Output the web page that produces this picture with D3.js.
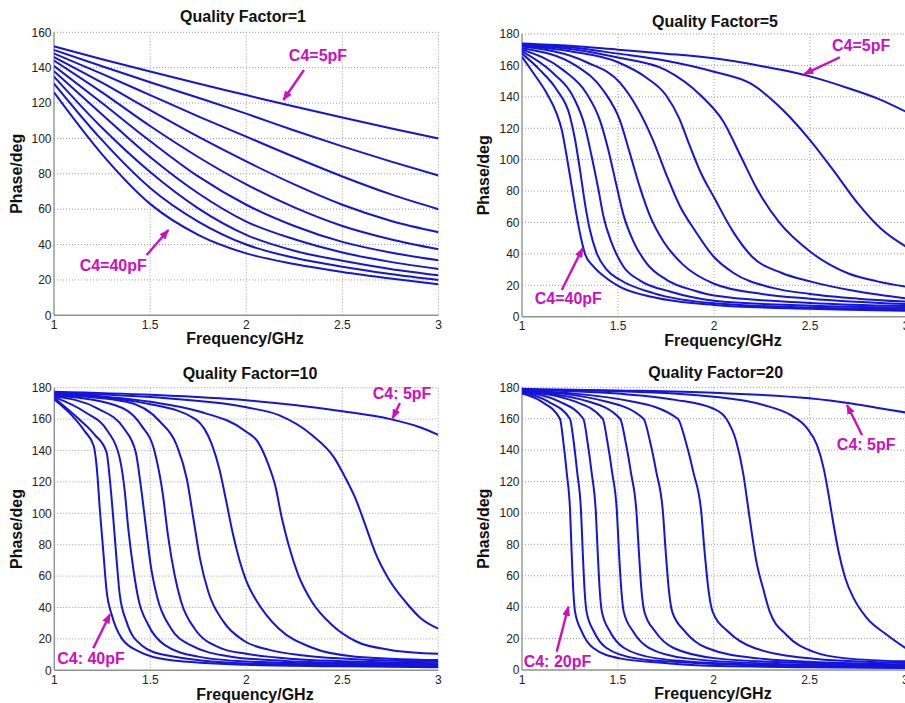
<!DOCTYPE html>
<html lang="en">
<head>
<meta charset="UTF-8">
<title>Phase vs Frequency for several quality factors</title>
<script src="https://d3js.org/d3.v7.min.js"></script>
<style>
  body { margin: 0; background: #fff; }
  svg { display: block; font-family: Arial, "Liberation Sans", Helvetica, sans-serif; }
  .grid line { stroke: #9c9c9c; stroke-width: 1; stroke-dasharray: 1,2; }
  .axis-line { stroke: #8a968a; stroke-width: 1.4; }
  .tick-label { font-size: 12px; fill: #222; }
  .title, .axis-title { font-size: 16px; font-weight: bold; fill: #111; }
  .curve { fill: none; stroke: #1414dc; stroke-width: 2; stroke-linejoin: round; }
  .note { font-size: 16px; font-weight: bold; fill: #cc11bb; }
  .note-arrow { stroke: #cc11bb; stroke-width: 2.4; }
</style>
</head>
<body>
<svg id="chart" width="905" height="703"></svg>
<script>
const freqTicks = [1, 1.5, 2, 2.5, 3];
const phaseTicksQ1 = [0, 20, 40, 60, 80, 100, 120, 140, 160];
const phaseTicks = [0, 20, 40, 60, 80, 100, 120, 140, 160, 180];

// Q = 1 : one shared frequency grid, ten curves (top = C4 5pF)
const q1Freq = [1, 1.25, 1.5, 1.75, 2, 2.25, 2.5, 2.75, 3];
const q1Phase = [
  [152, 144.8, 137.8, 131, 124.5, 118, 111.8, 105.8, 100],
  [150, 140.8, 131.8, 123, 114, 104.5, 95.5, 87, 79],
  [148, 136.5, 124.5, 112.5, 101, 89.5, 78.5, 68.5, 60],
  [146, 131.5, 116, 101, 87, 74, 62.5, 53.5, 47],
  [144, 126, 107, 89.5, 74, 61, 50.5, 43, 37.3],
  [141, 120, 98.5, 78.5, 62.5, 50.5, 41.5, 35.5, 31.1],
  [138, 113.5, 89.5, 69, 53, 43, 35.5, 30.2, 26.2],
  [135, 106, 81, 60.5, 45.5, 36.5, 30.8, 26.2, 22.6],
  [131, 99, 72, 53, 40, 32.5, 27.5, 23.4, 20],
  [126, 91, 63, 45.5, 35, 29, 24.5, 20.8, 17.5]
];

// Q = 5 : [GHz, deg] points
const q5Curves = [
  [[1,174],[1.25,172.5],[1.5,170],[1.75,167.5],[2,164.5],[2.25,159.5],[2.5,153],[2.7,145.5],[2.85,139],[3,130.5]],
  [[1,173.5],[1.25,171.5],[1.5,167.5],[1.75,163],[2,156],[2.19,148.5],[2.36,131.5],[2.5,112.5],[2.62,93.5],[2.75,72],[2.87,56],[3,44.6]],
  [[1,173],[1.25,170.5],[1.5,165],[1.75,157],[1.93,141],[2.05,124],[2.14,102],[2.23,80],[2.34,60],[2.5,41.5],[2.7,27.5],[2.85,22.5],[3,19.1]],
  [[1,172.5],[1.25,169],[1.5,162],[1.65,152],[1.75,141],[1.82,126],[1.87,110],[1.93,92],[2,76],[2.1,54],[2.2,38],[2.35,28],[2.5,22.5],[2.75,16],[3,11.7]],
  [[1,172],[1.337,162],[1.51,149],[1.6,133],[1.68,113],[1.75,91],[1.82,71],[1.9,55],[2,38],[2.1,28],[2.3,18.5],[2.5,14.5],[2.75,11.5],[3,9.6]],
  [[1,171],[1.285,159.5],[1.424,144],[1.51,125],[1.562,104],[1.615,82],[1.667,64],[1.736,48],[1.84,33],[2,21],[2.25,14.5],[2.5,11.5],[3,8.1]],
  [[1,170],[1.215,157],[1.337,142],[1.406,125],[1.45,106],[1.493,83],[1.528,65],[1.58,48],[1.649,34],[1.753,23.5],[1.9,16.5],[2,13.5],[2.5,8.8],[3,6.8]],
  [[1,169],[1.163,155],[1.267,140],[1.328,121],[1.363,102],[1.398,81],[1.424,64],[1.467,47],[1.528,32],[1.615,23],[1.77,16],[2,10.2],[2.5,7],[3,5.7]],
  [[1,167.5],[1.094,157],[1.181,144.5],[1.25,127.5],[1.276,113],[1.302,93.5],[1.328,72],[1.354,55],[1.389,40.5],[1.441,30],[1.51,23.5],[1.684,15],[2,8.5],[2.5,5.8],[3,4.7]],
  [[1,165.5],[1.06,155],[1.13,142],[1.18,129.5],[1.207,119],[1.233,102],[1.259,83],[1.285,64],[1.311,48],[1.328,40],[1.372,32],[1.44,24.5],[1.51,19],[1.68,12.5],[2,7.5],[2.5,5],[3,3.8]]
];

// Q = 10
const q10Curves = [
  [[1,177.5],[1.5,175.5],[2,172],[2.25,169],[2.5,165],[2.75,160],[2.9,155],[3,150]],
  [[1,177],[1.5,174],[2,167.5],[2.17,162.5],[2.34,150],[2.46,135],[2.51,124],[2.57,109],[2.62,92.5],[2.67,75.5],[2.74,58.5],[2.83,43.5],[2.91,33],[3,26.5]],
  [[1,176.5],[1.5,171],[1.75,165],[2,152],[2.06,145.5],[2.115,131],[2.15,118],[2.185,97],[2.22,80],[2.27,61],[2.34,44],[2.445,29],[2.57,18.5],[2.75,13],[3,10.5]],
  [[1,176],[1.5,169.5],[1.735,160],[1.82,144],[1.86,128],[1.895,108],[1.93,87],[1.965,70],[2,57],[2.05,45],[2.1,36],[2.17,26.5],[2.34,14.5],[2.57,8.7],[3,6.5]],
  [[1,175.5],[1.377,171],[1.551,158.3],[1.637,143.5],[1.69,122],[1.724,97],[1.759,71],[1.802,50],[1.881,31],[1.985,19],[2.12,13],[2.3,9.5],[2.5,7.5],[3,5.5]],
  [[1,175],[1.314,169],[1.453,156],[1.523,139],[1.566,111.5],[1.592,86],[1.627,60.5],[1.661,43.5],[1.731,26.5],[1.87,14],[2,10.5],[2.25,7.2],[2.5,5.8],[3,4.5]],
  [[1,174.5],[1.224,166.8],[1.363,154],[1.424,139],[1.45,118],[1.476,92.5],[1.502,67],[1.537,46],[1.606,27],[1.71,16],[1.92,8.7],[2.2,6],[2.5,4.8],[3,3.8]],
  [[1,174],[1.159,164.5],[1.28,152],[1.341,135],[1.367,114],[1.385,90.5],[1.411,65],[1.437,46],[1.489,29],[1.576,16],[1.749,8.7],[2,5.6],[2.5,4],[3,3.2]],
  [[1,173.5],[1.124,160.5],[1.211,150],[1.272,139],[1.289,122],[1.307,97],[1.324,71],[1.341,48],[1.376,31],[1.454,16],[1.576,9.7],[2,4.3],[2.5,3.2],[3,2.6]],
  [[1,172.5],[1.09,162.5],[1.16,152],[1.205,143],[1.222,128],[1.238,101],[1.255,76],[1.272,51],[1.3,35],[1.35,20.5],[1.44,12],[1.6,6.5],[2,3.5],[2.5,2.5],[3,2]]
];

// Q = 20
const q20Curves = [
  [[1,179],[1.5,178],[2,176.5],[2.5,173],[2.7,170],[2.85,167],[3,164]],
  [[1,178.5],[1.5,177.5],[2,174],[2.26,168.7],[2.4,162.4],[2.487,154],[2.539,143.3],[2.574,128.4],[2.6,111.4],[2.626,92.3],[2.652,75.3],[2.687,58.4],[2.731,45.6],[2.8,33],[2.905,22.3],[3,14]],
  [[1,178.5],[1.5,176],[1.8,172],[1.997,166.5],[2.066,160],[2.118,145.5],[2.153,126],[2.188,96.5],[2.223,69],[2.258,52],[2.293,37],[2.38,22.3],[2.519,11.7],[2.693,7.4],[3,5.5]],
  [[1,178],[1.574,171],[1.813,160],[1.855,145],[1.894,126],[1.935,101],[1.953,75],[1.974,50],[1.995,37],[2.075,24.5],[2.213,14],[2.535,7],[3,4.5]],
  [[1,178],[1.437,171],[1.634,160],[1.669,145],[1.701,126],[1.735,101],[1.75,75],[1.767,50],[1.784,37],[1.851,24.5],[1.965,14],[2.231,7.4],[2.6,4.8],[3,3.6]],
  [[1,177.5],[1.346,171],[1.512,160],[1.541,145],[1.568,126],[1.597,101],[1.61,75],[1.624,50],[1.639,37],[1.695,24.5],[1.791,14],[2.015,7.4],[2.5,4.3],[3,3]],
  [[1,177.5],[1.275,171],[1.421,160],[1.446,145],[1.47,126],[1.495,101],[1.506,75],[1.519,50],[1.531,37],[1.58,24.5],[1.664,14],[1.86,7.4],[2.3,4],[3,2.5]],
  [[1,177],[1.193,171],[1.32,160],[1.342,145],[1.363,126],[1.385,101],[1.395,75],[1.406,50],[1.417,37],[1.459,24.5],[1.533,14],[1.703,7.4],[2.1,4],[3,2]],
  [[1,177],[1.135,171],[1.25,160],[1.27,145],[1.288,126],[1.308,101],[1.317,75],[1.327,50],[1.337,37],[1.375,24.5],[1.441,14],[1.595,7.4],[1.9,4.5],[2.5,2.4],[3,1.6]],
  [[1,176],[1.1,171],[1.198,160],[1.216,145],[1.233,126],[1.251,101],[1.259,75],[1.268,50],[1.277,37],[1.312,24.5],[1.372,14],[1.51,7.4],[1.77,4.2],[2.03,2.5],[2.5,1.8],[3,1.2]]
];

// annotations, in data units: text position, arrow tail, arrow tip
const q1Notes = [
  { text: "C4=5pF",  at: [2.373, 143.5], from: [2.30, 138.7], to: [2.193, 121.7] },
  { text: "C4=40pF", at: [1.308, 24.8],  from: [1.482, 34.1], to: [1.595, 48.2] }
];
const q5Notes = [
  { text: "C4=5pF",  at: [2.766, 169.2], from: [2.656, 165.2], to: [2.47, 154.5] },
  { text: "C4=40pF", at: [1.241, 8.1],   from: [1.207, 17],    to: [1.316, 43.6] }
];
const q10Notes = [
  { text: "C4: 5pF",  at: [2.811, 172.5], from: [2.80, 170.3], to: [2.762, 160.5] },
  { text: "C4: 40pF", at: [1.191, 3.7],   from: [1.203, 14],   to: [1.29, 35.7] }
];
const q20Notes = [
  { text: "C4: 5pF",  at: [2.796, 140.1], from: [2.774, 149.6], to: [2.696, 168.7] },
  { text: "C4: 20pF", at: [1.185, 2.2],   from: [1.181, 11.7],  to: [1.242, 40.3] }
];

const q1Curves = q1Phase.map(row => row.map((v, i) => [q1Freq[i], v]));

const panels = [
  { title: "Quality Factor=1", curves: q1Curves, notes: q1Notes, yTicks: phaseTicksQ1, yMax: 160,
    left: 54, right: 438.5, top: 32.3, bottom: 315.3,
    titleX: 243, titleY: 22.2, xLabX: 245, xLabY: 344, yLabX: 21.5 },
  { title: "Quality Factor=5", curves: q5Curves, notes: q5Notes, yTicks: phaseTicks, yMax: 180,
    left: 522, right: 906, top: 34, bottom: 316.7,
    titleX: 715, titleY: 26.5, xLabX: 723, xLabY: 345.5, yLabX: 489 },
  { title: "Quality Factor=10", curves: q10Curves, notes: q10Notes, yTicks: phaseTicks, yMax: 180,
    left: 54.3, right: 438.3, top: 387.7, bottom: 670.3,
    titleX: 250, titleY: 379.2, xLabX: 255, xLabY: 700, yLabX: 21.5 },
  { title: "Quality Factor=20", curves: q20Curves, notes: q20Notes, yTicks: phaseTicks, yMax: 180,
    left: 522, right: 905.3, top: 387.3, bottom: 670,
    titleX: 715.7, titleY: 377.5, xLabX: 713, xLabY: 699, yLabX: 489 }
];

const svg = d3.select("#chart");

const defs = svg.append("defs");
defs.append("marker")
  .attr("id", "head")
  .attr("markerUnits", "userSpaceOnUse")
  .attr("viewBox", "0 0 10 8")
  .attr("markerWidth", 10)
  .attr("markerHeight", 8)
  .attr("refX", 9)
  .attr("refY", 4)
  .attr("orient", "auto")
  .append("path")
  .attr("d", "M0,0 L10,4 L0,8 Z")
  .attr("fill", "#cc11bb");

panels.forEach((p, pi) => {
  const x = d3.scaleLinear().domain([1, 3]).range([p.left, p.right]);
  const y = d3.scaleLinear().domain([0, p.yMax]).range([p.bottom, p.top]);
  const g = svg.append("g");

  defs.append("clipPath").attr("id", "clip" + pi)
    .append("rect")
    .attr("x", p.left).attr("y", p.top - 2)
    .attr("width", p.right - p.left).attr("height", p.bottom - p.top + 4);

  // dotted grid
  const grid = g.append("g").attr("class", "grid");
  grid.selectAll(".gy").data(p.yTicks.filter(d => d > 0)).join("line")
    .attr("x1", p.left).attr("x2", p.right)
    .attr("y1", d => y(d)).attr("y2", d => y(d));
  grid.selectAll(".gx").data(freqTicks.filter(d => d > 1)).join("line")
    .attr("x1", d => x(d)).attr("x2", d => x(d))
    .attr("y1", p.top).attr("y2", p.bottom);

  // left and bottom axis lines
  g.append("line").attr("class", "axis-line")
    .attr("x1", p.left).attr("x2", p.left).attr("y1", p.top).attr("y2", p.bottom);
  g.append("line").attr("class", "axis-line")
    .attr("x1", p.left).attr("x2", p.right).attr("y1", p.bottom).attr("y2", p.bottom);

  // tick labels
  g.selectAll(".yt").data(p.yTicks).join("text")
    .attr("class", "tick-label")
    .attr("x", p.left - 2.5)
    .attr("y", d => y(d))
    .attr("dy", "0.36em")
    .attr("text-anchor", "end")
    .text(d => d);
  g.selectAll(".xt").data(freqTicks).join("text")
    .attr("class", "tick-label")
    .attr("x", d => x(d))
    .attr("y", p.bottom + 13.5)
    .attr("text-anchor", "middle")
    .text(d => d);

  // curves
  const line = d3.line()
    .x(d => x(d[0]))
    .y(d => y(d[1]))
    .curve(d3.curveMonotoneX);
  g.append("g").attr("clip-path", `url(#clip${pi})`)
    .selectAll("path").data(p.curves).join("path")
    .attr("class", "curve")
    .attr("d", line);

  // titles
  g.append("text").attr("class", "title")
    .attr("x", p.titleX).attr("y", p.titleY)
    .attr("text-anchor", "middle").text(p.title);
  g.append("text").attr("class", "axis-title")
    .attr("x", p.xLabX).attr("y", p.xLabY)
    .attr("text-anchor", "middle").text("Frequency/GHz");
  g.append("text").attr("class", "axis-title")
    .attr("transform", `translate(${p.yLabX},${(p.top + p.bottom) / 2}) rotate(-90)`)
    .attr("text-anchor", "middle").text("Phase/deg");

  // magenta annotations
  p.notes.forEach(n => {
    g.append("line").attr("class", "note-arrow")
      .attr("x1", x(n.from[0])).attr("y1", y(n.from[1]))
      .attr("x2", x(n.to[0])).attr("y2", y(n.to[1]))
      .attr("marker-end", "url(#head)");
    g.append("text").attr("class", "note")
      .attr("x", x(n.at[0])).attr("y", y(n.at[1]))
      .attr("text-anchor", "middle").text(n.text);
  });
});
</script>
</body>
</html>
